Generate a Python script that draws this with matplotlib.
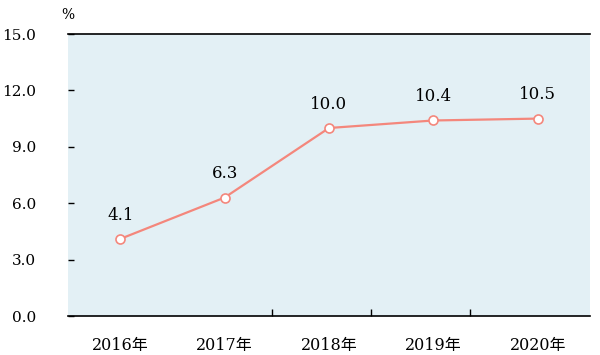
import matplotlib.pyplot as plt

years = ['2016年', '2017年', '2018年', '2019年', '2020年']
values = [4.1, 6.3, 10.0, 10.4, 10.5]
yticks = [0, 3, 6, 9, 12, 15]

plt.rcParams['font.family'] = ['DejaVu Serif', 'Noto Sans CJK SC']

fig = plt.figure(figsize=(6, 3.55), dpi=100)
ax = fig.add_axes([68 / 600, 1 - 316 / 355, 522 / 600, 282 / 355])
ax.set_facecolor('#e3f0f5')

x = list(range(len(years)))
ax.plot(x, values, '-', color='#f4877c', lw=1.6, marker='o', ms=6.5,
        mfc='white', mec='#f4877c', mew=1.2, zorder=3)

for xi, v in zip(x, values):
    ax.annotate(f'{v:.1f}', (xi, v), xytext=(0, 17), textcoords='offset points',
                ha='center', va='center', fontsize=12)

ax.set_xlim(-0.5, 4.5)
ax.set_ylim(0, 15)
ax.set_yticks(yticks)
ax.set_yticklabels([f'{t:.1f}' for t in yticks], fontsize=11)
ax.set_xticks(x)
ax.set_xticklabels(years, fontsize=11.5)
ax.tick_params(axis='x', length=0, pad=15)
ax.tick_params(axis='y', direction='in', length=4, width=1, pad=23)
ax.set_xticks([1.45, 2.4, 3.35], minor=True)
ax.tick_params(axis='x', which='minor', direction='in', length=5, width=1)

for s in ['left', 'right']:
    ax.spines[s].set_visible(False)
ax.spines['top'].set_linewidth(1.2)
ax.spines['bottom'].set_linewidth(1.2)

fig.text(68 / 600, 1 - 15 / 355, '%', ha='center', va='center', fontsize=10)

fig.savefig('out.png', dpi=100)
